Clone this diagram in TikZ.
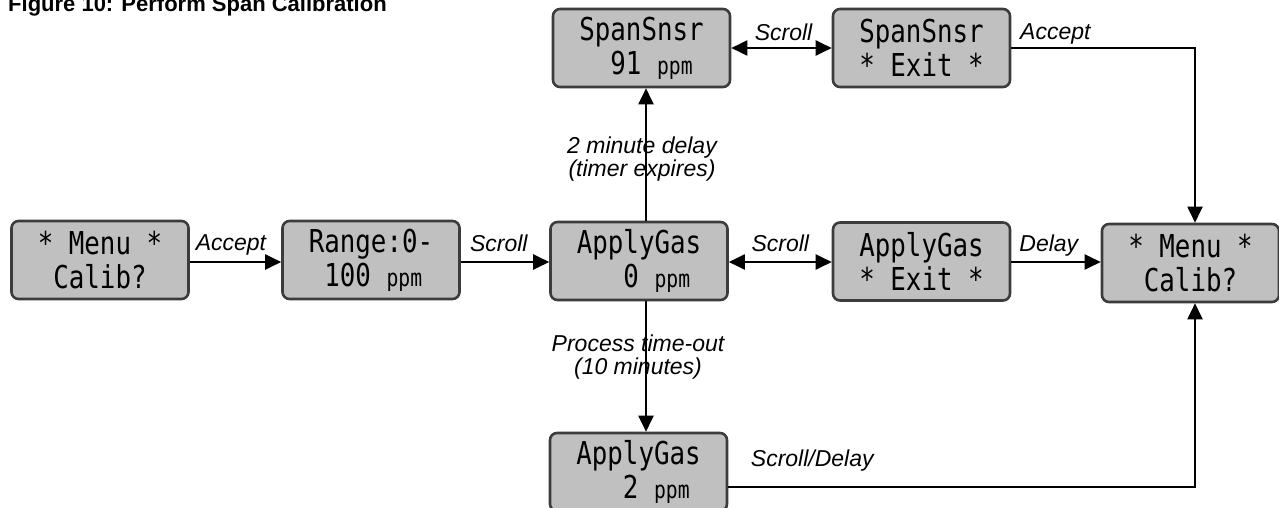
\documentclass[tikz,border=0pt]{standalone}
\usepackage{fontspec}
\setmainfont{Liberation Sans}
\newfontfamily\lcd[FakeStretch=0.82]{DejaVu Sans Mono}
\usetikzlibrary{arrows.meta}
\definecolor{boxfill}{HTML}{C0C0C0}
\definecolor{boxline}{HTML}{3C3C3C}
\newcommand\lsp{\mbox{\ }}
\newcommand\ppm{{\fontsize{24}{24}\selectfont ppm}}
\tikzset{
  lcdbox/.style={draw=boxline, fill=boxfill, line width=2.6pt, rounded corners=7pt,
    minimum width=177pt, minimum height=78pt, inner sep=0pt, align=left,
    font=\lcd\fontsize{31.5}{34}\selectfont},
  conn/.style={line width=2pt, -{Triangle[length=16pt,width=15pt]}},
  dconn/.style={line width=2pt, {Triangle[length=16pt,width=15pt]}-{Triangle[length=16pt,width=15pt]}},
  lbl/.style={font=\fontsize{23}{23}\selectfont\itshape, inner sep=0pt},
}
\begin{document}
\begin{tikzpicture}[x=1pt,y=-1pt]
\useasboundingbox (0,0) rectangle (1279,508);
\node[anchor=base west, inner sep=0pt, font=\bfseries\fontsize{22}{22}\selectfont] (title) at (8,12) {Figure 10: Perform Span Calibration};

\node[lcdbox] (m1)  at (100,260)    {*~Menu~*\\\lsp Calib?};
\node[lcdbox] (rng) at (371,260)    {Range:0-\\\lsp 100~\ppm};
\node[lcdbox] (a0)  at (639,261)    {ApplyGas\\\lsp\lsp\lsp 0~\ppm};
\node[lcdbox] (ax)  at (921.5,261.5) {ApplyGas\\*~Exit~*};
\node[lcdbox] (m2)  at (1190.5,263) {*~Menu~*\\\lsp Calib?};
\node[lcdbox] (s91) at (641.5,48)   {SpanSnsr\\\lsp\lsp 91~\ppm};
\node[lcdbox] (sx)  at (921.5,48)   {SpanSnsr\\*~Exit~*};
\node[lcdbox] (a2)  at (638.5,472)  {ApplyGas\\\lsp\lsp\lsp 2~\ppm};

\coordinate (row) at (0,262);
\coordinate (c1) at (1195,48);
\coordinate (c2) at (1195,487);

\draw[conn] (m1.east |- row) -- node[lbl, above=6pt, pos=0.45] {Accept} (rng.west |- row);
\draw[conn] (rng.east |- row) -- node[lbl, above=9pt, pos=0.43] {Scroll} (a0.west |- row);
\draw[dconn] (a0.east |- row) -- node[lbl, above=9pt, pos=0.5] {Scroll} (ax.west |- row);
\draw[conn] (ax.east |- row) -- node[lbl, above=5pt, pos=0.42] {Delay} (m2.west |- row);
\draw[dconn] (s91.east) -- node[lbl, above=6pt, pos=0.52] {Scroll} (sx.west);
\draw[conn] (sx.east) -- node[lbl, above=3pt, pos=0.24] {Accept} (c1) -- (c1 |- m2.north);
\draw[conn] (a2.east |- c2) -- node[lbl, above=15pt, pos=0.18] {Scroll/Delay} (c2) -- (c2 |- m2.south);

\draw[conn] ([xshift=7pt]a0.north) -- ([xshift=7pt]a0.north |- s91.south);
\draw[conn] ([xshift=7pt]a0.south) -- ([xshift=7pt]a0.south |- a2.north);

\node[lbl, align=center] (l1) at (642,159) {2 minute delay\\(timer expires)};
\node[lbl, align=center] (l2) at (638,357) {Process time-out\\(10 minutes)};
\end{tikzpicture}
\end{document}
